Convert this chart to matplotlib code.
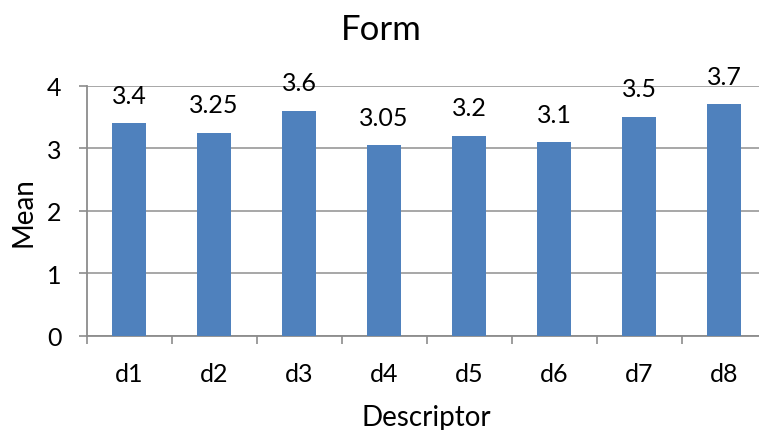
import matplotlib
matplotlib.use("Agg")
import matplotlib.pyplot as plt

categories = ["d1", "d2", "d3", "d4", "d5", "d6", "d7", "d8"]
values = [3.4, 3.25, 3.6, 3.05, 3.2, 3.1, 3.5, 3.7]
labels = ["3.4", "3.25", "3.6", "3.05", "3.2", "3.1", "3.5", "3.7"]
yticks = [0, 1, 2, 3, 4]

plt.rcParams['font.family'] = ['Lato', 'DejaVu Sans']

W, H = 759, 431
fig = plt.figure(figsize=(W / 100, H / 100), dpi=100)
ax = fig.add_axes([86.7 / W, 94 / H, 680 / W, 250.3 / H])

x = list(range(len(categories)))
ax.bar(x, values, width=0.4, color='#4f81bd', zorder=3)
for xi, v, lab in zip(x, values, labels):
    ax.annotate(lab, (xi, v), xytext=(0, 28 * 72 / 100), textcoords='offset points',
                ha='center', va='center', fontsize=18, color='black')

ax.set_xlim(-0.5, len(categories) - 0.5)
ax.set_ylim(0, 4)
ax.set_yticks(yticks)
ax.set_yticklabels([str(t) for t in yticks], fontsize=18)
ax.set_xticks(x)
ax.set_xticklabels(categories, fontsize=18)
ax.tick_params(axis='x', length=0, pad=19)
ax.set_xticks([i - 0.5 for i in range(len(categories) + 1)], minor=True)
ax.tick_params(axis='x', which='minor', length=6, width=1.2, color='#8c8c8c', direction='out')
ax.tick_params(axis='y', length=6, width=1.2, color='#8c8c8c', direction='out', pad=12)

ax.yaxis.grid(True, color='#a0a0a0', linewidth=1.3, zorder=0)
ax.set_axisbelow(True)
for s in ['top', 'right']:
    ax.spines[s].set_visible(False)
for s in ['left', 'bottom']:
    ax.spines[s].set_color('#8c8c8c')
    ax.spines[s].set_linewidth(1.3)

fig.text(381 / W, 1 - 30 / H, "Form", ha='center', va='center', fontsize=25)
fig.text(24 / W, 1 - 212 / H, "Mean", ha='center', va='center', rotation=90, fontsize=20)
fig.text(426 / W, 1 - 418 / H, "Descriptor", ha='center', va='center', fontsize=20)

fig.savefig("out.png", dpi=100)
